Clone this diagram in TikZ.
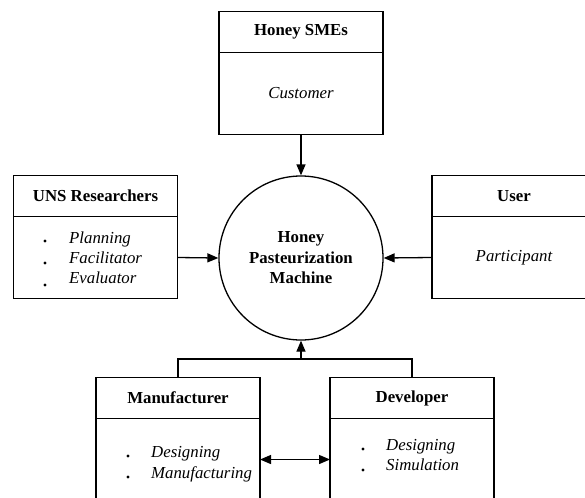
\documentclass[tikz,border=0pt]{standalone}
\usepackage{fontspec}
\setmainfont{Liberation Serif}
\usetikzlibrary{arrows.meta}

\begin{document}
\begin{tikzpicture}[x=1pt,y=-1pt,
  every node/.style={font=\fontsize{16.8}{20.5}\selectfont},
  frame/.style={draw,line width=1.3pt,inner sep=0pt,outer sep=0pt,minimum width=164pt},
  headbox/.style={frame,minimum height=41pt,font=\fontsize{16.8}{20.5}\selectfont\bfseries},
  bodybox/.style={frame,minimum height=82pt,font=\fontsize{16.8}{20.5}\selectfont\itshape},
  item/.style={anchor=base west,inner sep=0pt,font=\fontsize{16.8}{20.5}\selectfont\itshape},
  link/.style={line width=1.3pt},
  tip/.tip={Triangle[length=11pt,width=9pt]},
  arr/.style={link,-tip},
  dot/.style={fill=black}
]
\useasboundingbox (0,0) rectangle (585,497);
\begin{scope}
\clip (0,0) rectangle (585,497);

% central system
\node[draw,circle,line width=1.3pt,minimum size=164pt,inner sep=0pt,align=center,
      font=\fontsize{16.8}{20.5}\selectfont\bfseries] (circ) at (301,258)
      {Honey\\Pasteurization\\Machine};

% Honey SMEs
\node[headbox] (smeHead) at (301,32) {Honey SMEs};
\node[bodybox,anchor=north] (smeBody) at (smeHead.south) {Customer};

% UNS Researchers
\node[headbox] (unsHead) at (95.5,196) {UNS Researchers};
\node[bodybox,anchor=north] (unsBody) at (unsHead.south) {};
\node[item] (unsA) at (69,243) {Planning};
\node[item] (unsB) at (69,263) {Facilitator};
\node[item] (unsC) at (69,283) {Evaluator};
\fill[dot] (45,241) circle (1.6pt) (45,263) circle (1.6pt) (45,285) circle (1.6pt);

% User
\node[headbox] (userHead) at (514,196) {User};
\node[bodybox,anchor=north] (userBody) at (userHead.south) {Participant};

% Manufacturer
\node[headbox] (manHead) at (178,398) {Manufacturer};
\node[bodybox,anchor=north] (manBody) at (manHead.south) {};
\node[item] (manA) at (151,457) {Designing};
\node[item] (manB) at (151,478) {Manufacturing};
\fill[dot] (128,456) circle (1.6pt) (128,477) circle (1.6pt);

% Developer
\node[headbox] (devHead) at (412,398) {Developer};
\node[bodybox,anchor=north] (devBody) at (devHead.south) {};
\node[item] (devA) at (386,450) {Designing};
\node[item] (devB) at (386,470) {Simulation};
\fill[dot] (363,449) circle (1.6pt) (363,470) circle (1.6pt);

% connectors
\draw[arr] (smeBody.south) -- (circ.north);
\draw[arr] (unsBody.east) -- (circ.west);
\draw[arr] (userBody.west) -- (circ.east);
\coordinate (bus) at (301,359);
\draw[link] (manHead.north) |- (bus) -| (devHead.north);
\draw[arr] (bus) -- (circ.south);
\draw[link,tip-tip] (manBody.east) -- (devBody.west);
\end{scope}
\end{tikzpicture}
\end{document}
